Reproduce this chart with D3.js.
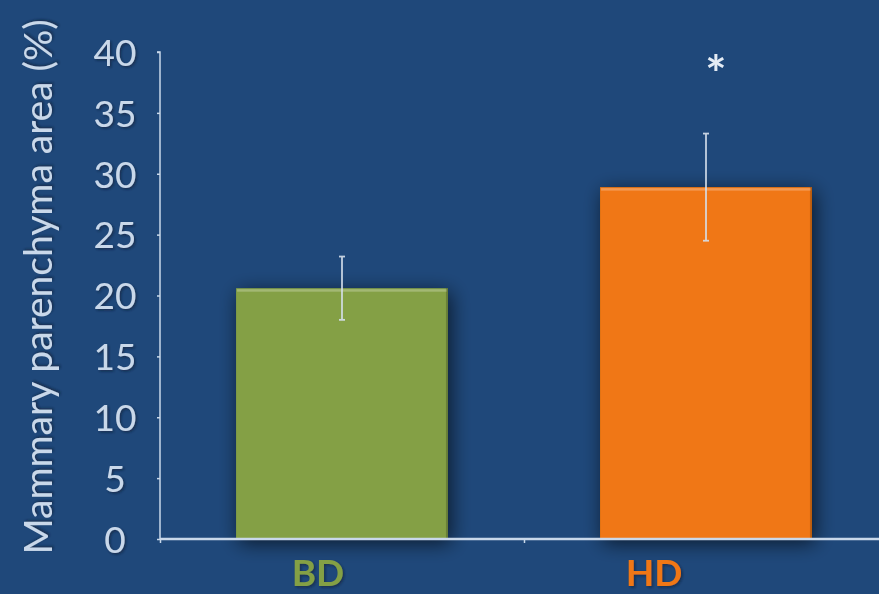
<!DOCTYPE html>
<html>
<head>
<meta charset="utf-8">
<script src="https://cdn.jsdelivr.net/npm/d3@7"></script>
<style>
  html, body { margin: 0; padding: 0; background: #1F487A; }
  svg { display: block; }
</style>
</head>
<body>
<svg id="chart" width="879" height="594"></svg>
<script>
// Data
const categories = ["BD", "HD"];
const means = [20.6, 28.9];
const errors = [2.6, 4.4];
const yTicks = [0, 5, 10, 15, 20, 25, 30, 35, 40];
const significance = ["", "*"];
const yLabel = "Mammary parenchyma area (%)";

const barColors = { BD: "#84A045", HD: "#F07712" };
const textColor = "#C9D8EA";
const font = "Lato, 'Open Sans', sans-serif";

const svg = d3.select("#chart");
const W = 879, H = 594;

svg.append("rect").attr("width", W).attr("height", H).attr("fill", "#1F487A");

const defs = svg.append("defs");
const shadow = defs.append("filter").attr("id", "barShadow")
  .attr("x", "-20%").attr("y", "-20%").attr("width", "140%").attr("height", "140%");
shadow.append("feGaussianBlur").attr("in", "SourceAlpha").attr("stdDeviation", 10).attr("result", "b");
shadow.append("feOffset").attr("in", "b").attr("dx", 3).attr("dy", 4).attr("result", "o");
shadow.append("feComponentTransfer").attr("in", "o").attr("result", "s")
  .append("feFuncA").attr("type", "linear").attr("slope", 0.65);
const merge = shadow.append("feMerge");
merge.append("feMergeNode").attr("in", "s");
merge.append("feMergeNode").attr("in", "SourceGraphic");

const textShadow = defs.append("filter").attr("id", "txtShadow")
  .attr("x", "-10%").attr("y", "-10%").attr("width", "130%").attr("height", "130%");
textShadow.append("feDropShadow").attr("dx", 1.5).attr("dy", 1.5)
  .attr("stdDeviation", 1).attr("flood-color", "#0a1a30").attr("flood-opacity", 0.6);

const x = d3.scaleBand().domain(categories).range([160, 888])
  .paddingInner(0.418).paddingOuter(0.209);
const y = d3.scaleLinear().domain([0, 40]).range([539, 52]);
// category label positions sit left of the bar centres
const xLabel = d3.scalePoint().domain(categories).range([318, 654]);

// Bars
const bars = svg.append("g").selectAll("g").data(categories).join("g");
bars.append("rect")
  .attr("x", d => x(d))
  .attr("y", (d, i) => y(means[i]))
  .attr("width", x.bandwidth())
  .attr("height", (d, i) => y(0) - y(means[i]))
  .attr("fill", d => barColors[d])
  .attr("filter", "url(#barShadow)");
// top highlight and right edge
bars.append("rect")
  .attr("x", d => x(d) + 1)
  .attr("y", (d, i) => y(means[i]) + 1)
  .attr("width", x.bandwidth() - 2)
  .attr("height", 2.5)
  .attr("fill", "#ffffff").attr("opacity", 0.25);
bars.append("rect")
  .attr("x", d => x(d) + x.bandwidth() - 2)
  .attr("y", (d, i) => y(means[i]))
  .attr("width", 2)
  .attr("height", (d, i) => y(0) - y(means[i]))
  .attr("fill", "#000000").attr("opacity", 0.2);

// Axes
const yAxis = d3.axisLeft(y).tickValues(yTicks).tickSize(3).tickPadding(0).tickFormat(d3.format("d"));
const gy = svg.append("g").attr("transform", "translate(160,0)").call(yAxis);
gy.select(".domain").attr("stroke", "#C9D8EA").attr("stroke-width", 1.5)
  .attr("d", `M-3,${y(40)}H0V${y(0)}`);
gy.selectAll(".tick line").attr("stroke", "#C9D8EA").attr("stroke-width", 1.5);
gy.selectAll(".tick text")
  .attr("x", -45)
  .attr("text-anchor", "middle")
  .attr("fill", textColor).attr("font-family", font).attr("font-size", 37)
  .attr("dy", "0.36em")
  .attr("filter", "url(#txtShadow)");

const xAxis = d3.axisBottom(d3.scaleLinear().domain([0, 1]).range([160, 888]))
  .tickValues([0, 0.5]).tickSize(4).tickFormat("");
const gx = svg.append("g").attr("transform", `translate(0,${y(0)})`).call(xAxis);
gx.select(".domain").attr("stroke", "#C9D8EA").attr("stroke-width", 2.5)
  .attr("d", "M160,0H879");
gx.selectAll(".tick line").attr("stroke", "#C9D8EA").attr("stroke-width", 1.5);

// Error bars
const eb = svg.append("g").attr("stroke", "#D6E0EC").attr("stroke-width", 1.8).attr("opacity", 0.9);
categories.forEach((c, i) => {
  const cx = x(c) + x.bandwidth() / 2;
  const top = y(means[i] + errors[i]), bot = y(means[i] - errors[i]);
  eb.append("line").attr("x1", cx).attr("x2", cx).attr("y1", top).attr("y2", bot);
  eb.append("line").attr("x1", cx - 3).attr("x2", cx + 3).attr("y1", top).attr("y2", top);
  eb.append("line").attr("x1", cx - 3).attr("x2", cx + 3).attr("y1", bot).attr("y2", bot);
});

// Significance marks
svg.append("g").selectAll("text").data(categories).join("text")
  .attr("x", d => x(d) + x.bandwidth() / 2 + 10)
  .attr("y", 92)
  .attr("text-anchor", "middle")
  .attr("fill", "#E4ECF5")
  .attr("font-family", font).attr("font-weight", "bold").attr("font-size", 50)
  .text((d, i) => significance[i]);

// Category labels
svg.append("g").selectAll("text").data(categories).join("text")
  .attr("x", d => xLabel(d))
  .attr("y", 586)
  .attr("text-anchor", "middle")
  .attr("fill", d => barColors[d])
  .attr("font-family", font).attr("font-weight", "bold").attr("font-size", 37)
  .attr("filter", "url(#txtShadow)")
  .text(d => d);

// Y axis title
svg.append("text")
  .attr("transform", "translate(52,287) rotate(-90)")
  .attr("text-anchor", "middle")
  .attr("fill", textColor)
  .attr("font-family", font).attr("font-size", 39)
  .attr("filter", "url(#txtShadow)")
  .text(yLabel);
</script>
</body>
</html>
